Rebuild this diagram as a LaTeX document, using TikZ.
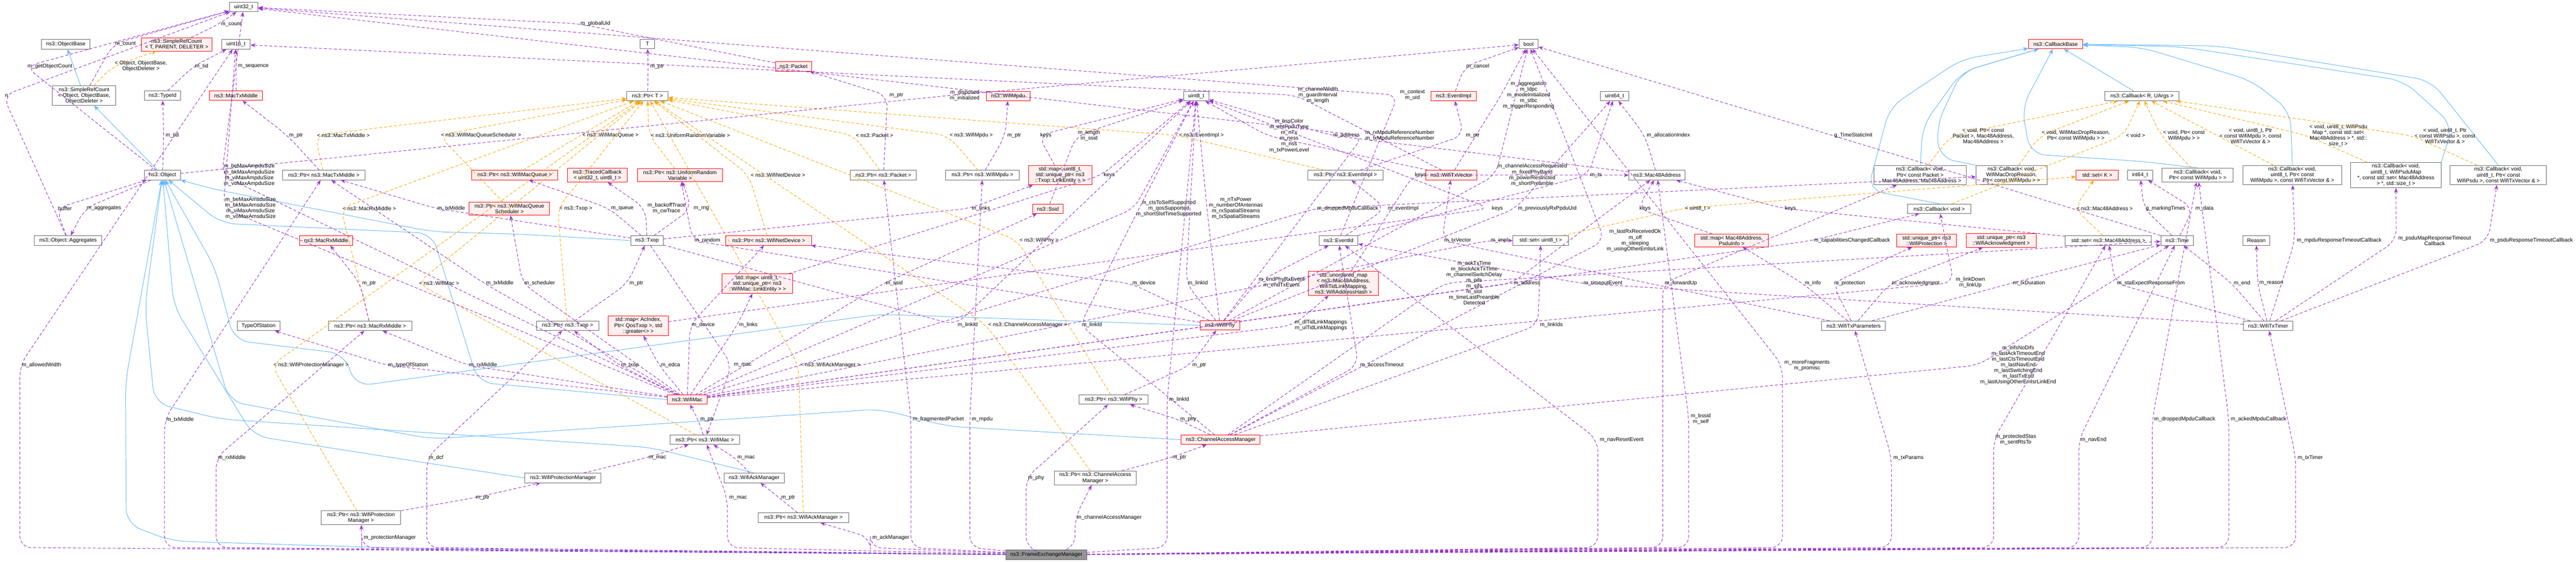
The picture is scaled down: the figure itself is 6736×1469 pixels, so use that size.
\documentclass[tikz,border=0pt]{standalone}
\usepackage{fontspec}
\setmainfont{Liberation Sans}
\usetikzlibrary{arrows.meta}
\definecolor{pur}{HTML}{9A32CD}
\definecolor{blu}{HTML}{63B8FF}
\definecolor{org}{HTML}{FFA500}
\definecolor{rfill}{HTML}{FFF0F0}
\definecolor{bgray}{HTML}{666666}
\newcommand\dfont{\fontsize{14}{15}\selectfont}
\newcommand\depE[4]{\draw[dep] (#1) -- (#3) -- (#2); \node[lbl,anchor=west,xshift=4pt] at (#3) {#4};}
\newcommand\femE[4]{\draw[dep] (fem) -- (#2,1432) -- (#2,#3) -- (#1); \node[lbl,anchor=west,xshift=4pt] at (#2,#3) {#4};}
\newcommand\tplE[4]{\draw[tpl] (#1) -- (#3) -- (#2); \node[lbl,anchor=west,xshift=4pt] at (#3) {#4};}
\tikzset{
 cls/.style={draw=bgray,fill=white,line width=1.3pt,font=\dfont,align=center,inner xsep=6pt,inner ysep=4pt,minimum height=25pt},
 red/.style={cls,draw=red,fill=rfill},
 femb/.style={cls,fill=bgray!70},
 lbl/.style={font=\dfont,align=center,inner sep=1pt},
 dep/.style={draw=pur,line width=1.3pt,dash pattern=on 8pt off 5pt,rounded corners=30pt,-{Stealth[length=13pt,width=10pt,fill=pur]}},
 tpl/.style={draw=org,line width=1.3pt,dash pattern=on 8pt off 5pt,rounded corners=30pt,-{Stealth[length=13pt,width=10pt,fill=org]}},
 inh/.style={draw=blu,line width=1.3pt,rounded corners=40pt,-{Stealth[length=14pt,width=11pt,fill=blu]}}
}
\begin{document}
\catcode`\_=12
\begin{tikzpicture}[x=1pt,y=-1pt]
\useasboundingbox[fill=white] (0,0) rectangle (6736,1469);
% nodes
\node[cls,minimum width=75pt] (u32) at (637,18) {uint32_t};
\node[cls,minimum width=126pt] (ob) at (172,116) {ns3::ObjectBase};
\node[red,minimum width=185pt] (srct) at (462,116) {ns3::SimpleRefCount\\< T, PARENT, DELETER >};
\node[cls,minimum width=75pt] (u16) at (617,116) {uint16_t};
\node[cls,minimum width=166pt] (srco) at (220,250) {ns3::SimpleRefCount\\< Object, ObjectBase,\\ObjectDeleter >};
\node[cls,minimum width=94pt] (tid) at (425,250) {ns3::TypeId};
\node[red,minimum width=139pt] (mtx) at (617,250) {ns3::MacTxMiddle};
\node[cls,minimum width=94pt] (obj) at (425,458) {ns3::Object};
\node[cls,minimum width=216pt] (pmtx) at (847,458) {ns3::Ptr< ns3::MacTxMiddle >};
\node[cls,minimum width=177pt] (agg) at (178,629) {ns3::Object::Aggregates};
\node[red,minimum width=139pt] (mrx) at (853,629) {ns3::MacRxMiddle};
\node[cls,minimum width=112pt] (tos) at (676,852) {TypeOfStation};
\node[cls,minimum width=219pt] (pmrx) at (968,852) {ns3::Ptr< ns3::MacRxMiddle >};
\node[cls,minimum width=208pt] (pwpm) at (944,1354) {ns3::Ptr< ns3::WifiProtection\\Manager >};
\node[cls,minimum width=38pt] (T) at (1693,115) {T};
\node[red,minimum width=95pt] (pkt) at (2075,174) {ns3::Packet};
\node[cls,minimum width=108pt] (pT) at (1693,251) {ns3::Ptr< T >};
\node[red,minimum width=225pt] (pwmq) at (1346,458) {ns3::Ptr< ns3::WifiMacQueue >};
\node[red,minimum width=157pt] (tcb) at (1562,458) {ns3::TracedCallback\\< uint32_t, uint8_t >};
\node[red,minimum width=223pt] (purv) at (1778,458) {ns3::Ptr< ns3::UniformRandom\\Variable >};
\node[red,minimum width=210pt] (pwmqs) at (1332,546) {ns3::Ptr< ns3::WifiMacQueue\\Scheduler >};
\node[cls,minimum width=84pt] (txop) at (1692,629) {ns3::Txop};
\node[red,minimum width=224pt] (pwnd) at (2010,629) {ns3::Ptr< ns3::WifiNetDevice >};
\node[red,minimum width=184pt] (maplink) at (1980,742) {std::map< uint8_t,\\ std::unique_ptr< ns3\\::WifiMac::LinkEntity > >};
\node[cls,minimum width=163pt] (ptxop) at (1484,852) {ns3::Ptr< ns3::Txop >};
\node[red,minimum width=157pt] (mapac) at (1669,852) {std::map< AcIndex,\\ Ptr< QosTxop >, std\\::greater<> >};
\node[red,minimum width=104pt] (wmac) at (1797,1045) {ns3::WifiMac};
\node[cls,minimum width=183pt] (pwmac) at (1843,1150) {ns3::Ptr< ns3::WifiMac >};
\node[cls,minimum width=200pt] (wpm) at (1472,1250) {ns3::WifiProtectionManager};
\node[cls,minimum width=157pt] (wam) at (1972,1250) {ns3::WifiAckManager};
\node[cls,minimum width=237pt] (pwam) at (2101,1354) {ns3::Ptr< ns3::WifiAckManager >};
\node[cls,minimum width=173pt] (ppkt) at (2310,458) {ns3::Ptr< ns3::Packet >};
\node[red,minimum width=114pt] (wmpdu) at (2636,251) {ns3::WifiMpdu};
\node[cls,minimum width=192pt] (pwmpdu) at (2569,458) {ns3::Ptr< ns3::WifiMpdu >};
\node[red,minimum width=166pt] (maptxl) at (2772,458) {std::map< uint8_t,\\ std::unique_ptr< ns3\\::Txop::LinkEntity > >};
\node[red,minimum width=79pt] (ssid) at (2740,546) {ns3::Ssid};
\node[cls,minimum width=66pt] (u8) at (3128,251) {uint8_t};
\node[red,minimum width=103pt] (wphy) at (3190,851) {ns3::WifiPhy};
\node[cls,minimum width=181pt] (pwphy) at (2912,1045) {ns3::Ptr< ns3::WifiPhy >};
\node[red,minimum width=206pt] (cam) at (3192,1150) {ns3::ChannelAccessManager};
\node[cls,minimum width=214pt] (pcam) at (2864,1250) {ns3::Ptr< ns3::ChannelAccess\\Manager >};
\node[femb,minimum width=212pt] (fem) at (2736,1451) {ns3::FrameExchangeManager};
\node[cls,minimum width=50pt] (bool) at (3997,115) {bool};
\node[red,minimum width=118pt] (evimpl) at (3801,251) {ns3::EventImpl};
\node[cls,minimum width=75pt] (u64) at (4222,251) {uint64_t};
\node[cls,minimum width=197pt] (pev) at (3518,458) {ns3::Ptr< ns3::EventImpl >};
\node[red,minimum width=134pt] (txvec) at (3795,458) {ns3::WifiTxVector};
\node[cls,minimum width=147pt] (mac48) at (4333,458) {ns3::Mac48Address};
\node[cls,minimum width=102pt] (evid) at (3500,629) {ns3::EventId};
\node[cls,minimum width=145pt] (setu8) at (4029,629) {std::set< uint8_t >};
\node[red,minimum width=192pt] (mappsdu) at (4528,629) {std::map< Mac48Address,\\ PsduInfo >};
\node[red,minimum width=183pt] (umap) at (3513,741) {std::unordered_map\\< ns3::Mac48Address,\\ WifiTidLinkMapping,\\ ns3::WifiAddressHash >};
\node[red,minimum width=141pt] (cbb) at (5375,115) {ns3::CallbackBase};
\node[cls,minimum width=194pt] (cbr) at (5601,251) {ns3::Callback< R, UArgs >};
\node[cls,minimum width=241pt] (cbpkt) at (5021,458) {ns3::Callback< void,\\ Ptr< const Packet >\\, Mac48Address, Mac48Address >};
\node[cls,minimum width=186pt] (cbdrop) at (5260,458) {ns3::Callback< void,\\ WifiMacDropReason,\\ Ptr< const WifiMpdu > >};
\node[red,minimum width=110pt] (setk) at (5484,458) {std::set< K >};
\node[cls,minimum width=67pt] (i64) at (5596,458) {int64_t};
\node[cls,minimum width=166pt] (cbv) at (5071,546) {ns3::Callback< void >};
\node[red,minimum width=157pt] (uprot) at (5038,629) {std::unique_ptr< ns3\\::WifiProtection >};
\node[red,minimum width=183pt] (uack) at (5233,629) {std::unique_ptr< ns3\\::WifiAcknowledgment >};
\node[cls,minimum width=225pt] (setmac) at (5513,629) {std::set< ns3::Mac48Address >};
\node[cls,minimum width=167pt] (wtxp) at (4847,852) {ns3::WifiTxParameters};
\node[cls,minimum width=186pt] (cbmpdu) at (5747,458) {ns3::Callback< void,\\ Ptr< const WifiMpdu > >};
\node[cls,minimum width=258pt] (cbmv) at (5994,458) {ns3::Callback< void,\\ uint8_t, Ptr< const\\ WifiMpdu >, const WifiTxVector \& >};
\node[cls,minimum width=236pt] (cbmap) at (6265,458) {ns3::Callback< void,\\ uint8_t, WifiPsduMap\\ *, const std::set< Mac48Address\\ > *, std::size_t >};
\node[cls,minimum width=252pt] (cbpsdu) at (6533,458) {ns3::Callback< void,\\ uint8_t, Ptr< const\\ WifiPsdu >, const WifiTxVector \& >};
\node[cls,minimum width=85pt] (time) at (5693,629) {ns3::Time};
\node[cls,minimum width=69pt] (reason) at (5900,629) {Reason};
\node[cls,minimum width=129pt] (wtt) at (5931,852) {ns3::WifiTxTimer};
% inheritance
\draw[inh] (srco) -- (ob);
\draw[inh] (obj) -- (srco);
\draw[inh] (txop.west) -- (1350,612) -- (1130,606) -- (560,495) -- (obj);
\draw[inh] (wmac.west) -- (1250,1000) -- (1130,610) -- (577,584) -- (obj);
\draw[inh] (wphy.west) -- (2300,822) -- (930,1010) -- (900,925) -- (612,890) -- (562,700) -- (obj);
\draw[inh] (cam.west) -- (2480,1115) -- (2300,1070) -- (1130,1148) -- (600,1050) -- (526,800) -- (obj);
\draw[inh] (wpm.west) -- (1130,1213) -- (663,1140) -- (454,800) -- (obj);
\draw[inh] (wam.north) -- (1700,1170) -- (577,1096) -- (404,1054) -- (379,800) -- (obj);
\draw[inh] (fem.west) -- (1130,1436) -- (450,1415) -- (330,1370) -- (328,1000) -- (obj);
\draw[inh] (cbr) -- (cbb);
\draw[inh] (cbpkt.north) -- (5028,328) -- (5129,188) -- (cbb);
\draw[inh] (cbdrop.north west) -- (5071,413) -- (5064,328) -- (5129,188) -- (cbb);
\draw[inh] (cbv.north) -- (4884,497) -- (4941,281) -- (5129,155) -- (cbb);
\draw[inh] (cbmpdu.north) -- (5600,422) -- (5309,403) -- (5287,281) -- (cbb);
\draw[inh] (cbmv.north) -- (5989,291) -- (5888,211) -- (5600,124) -- (cbb);
\draw[inh] (cbmap.north east) -- (6414,328) -- (6285,211) -- (5700,122) -- (cbb);
\draw[inh] (cbpsdu.north) -- (6357,211) -- (5800,120) -- (cbb);
% templates
\tplE{srco}{srct}{295,173}{< Object, ObjectBase,\\ObjectDeleter >}
\tplE{pmtx}{pT}{824,354}{< ns3::MacTxMiddle >}
\tplE{pmrx}{pT}{891,545}{< ns3::MacRxMiddle >}
\tplE{pwpm}{pT}{710,955}{< ns3::WifiProtectionManager >}
\tplE{pwmqs}{pT}{1148,354}{< ns3::WifiMacQueueScheduler >}
\tplE{pwmq}{pT}{1518,354}{< ns3::WifiMacQueue >}
\tplE{purv}{pT}{1697,354}{< ns3::UniformRandomVariable >}
\tplE{pwnd}{pT}{1958,458}{< ns3::WifiNetDevice >}
\tplE{ptxop}{pT}{1458,545}{< ns3::Txop >}
\tplE{pwmac}{pT}{1091,741}{< ns3::WifiMac >}
\tplE{pwam}{pT}{2088,955}{< ns3::WifiAckManager >}
\tplE{ppkt}{pT}{2233,354}{< ns3::Packet >}
\tplE{pwmpdu}{pT}{2478,354}{< ns3::WifiMpdu >}
\tplE{pev}{pT}{3078,354}{< ns3::EventImpl >}
\tplE{pwphy}{pT}{2661,629}{< ns3::WifiPhy >}
\tplE{pcam}{pT}{2579,850}{< ns3::ChannelAccessManager >}
\tplE{setu8}{setk}{4401,545}{< uint8_t >}
\tplE{setmac}{setk}{5424,545}{< ns3::Mac48Address >}
\tplE{cbpkt}{cbr}{5101,355}{< void, Ptr< const\\Packet >, Mac48Address,\\Mac48Address >}
\tplE{cbdrop}{cbr}{5334,355}{< void, WifiMacDropReason,\\Ptr< const WifiMpdu > >}
\tplE{cbv}{cbr}{5554,354}{< void >}
\tplE{cbmpdu}{cbr}{5651,355}{< void, Ptr< const\\WifiMpdu > >}
\tplE{cbmv}{cbr}{5799,355}{< void, uint8_t, Ptr\\< const WifiMpdu >, const\\WifiTxVector \& >}
\tplE{cbmap}{cbr}{6034,355}{< void, uint8_t, WifiPsdu\\Map *, const std::set<\\Mac48Address > *, std::\\size_t >}
\tplE{cbpsdu}{cbr}{6309,355}{< void, uint8_t, Ptr\\< const WifiPsdu >, const\\WifiTxVector \& >}
% members
\depE{srct}{u32}{573,63}{m_count}
\depE{srco}{u32}{296,115}{m_count}
\depE{obj}{u32}{67,174}{m_getObjectCount}
\depE{agg}{u32}{8,250}{n}
\depE{tid}{u16}{505,174}{m_tid}
\depE{mtx}{u16}{617,174}{m_sequence}
\depE{obj}{tid}{428,354}{m_tid}
\depE{agg}{obj}{147,545}{buffer}
\depE{obj}{agg}{222,545}{m_aggregates}
\depE{pmtx}{mtx}{751,354}{m_ptr}
\depE{pmrx}{mrx}{942,741}{m_ptr}
\depE{pT}{T}{1695,174}{m_ptr}
\depE{pkt}{u32}{1513,62}{m_globalUid}
\depE{txop}{pwmq}{1593,545}{m_queue}
\depE{txop}{tcb}{1688,545}{m_backoffTrace\\m_cwTrace}
\depE{txop}{purv}{1809,545}{m_rng}
\depE{wphy}{purv}{1811,629}{m_random}
\depE{txop}{pmtx}{1139,545}{m_txMiddle}
\depE{wmac}{pmtx}{1266,741}{m_txMiddle}
\depE{wmac}{pwmqs}{1366,741}{m_scheduler}
\depE{ptxop}{txop}{1641,741}{m_ptr}
\depE{wmac}{pwnd}{1804,850}{m_device}
\depE{wmac}{maplink}{1928,850}{m_links}
\depE{wmac}{pmrx}{1222,955}{m_rxMiddle}
\depE{wmac}{ptxop}{1619,955}{m_txop}
\depE{wmac}{mapac}{1723,955}{m_edca}
\depE{txop}{pwmac}{1914,955}{m_mac}
\depE{wmac}{tos}{1010,955}{m_typeOfStation}
\depE{pwmac}{wmac}{1826,1097}{m_ptr}
\depE{wpm}{pwmac}{1691,1197}{m_mac}
\depE{wam}{pwmac}{1923,1197}{m_mac}
\depE{pwpm}{wpm}{1239,1302}{m_ptr}
\depE{pwam}{wam}{2038,1302}{m_ptr}
\depE{ppkt}{pkt}{2321,250}{m_ptr}
\depE{obj}{bool}{2479,250}{m_disposed\\m_initialized}
\depE{pwmpdu}{wmpdu}{2629,354}{m_ptr}
\depE{maptxl}{u8}{2715,354}{keys}
\depE{ssid}{u8}{2814,355}{m_length\\m_ssid}
\depE{maplink}{u8}{2881,458}{keys}
\depE{txop}{maptxl}{2536,545}{m_links}
\depE{wphy}{u8}{3156,545}{m_nTxPower\\m_numberOfAntennas\\m_rxSpatialStreams\\m_txSpatialStreams}
\depE{wmac}{u8}{2966,545}{m_ctsToSelfSupported\\m_qosSupported\\m_shortSlotTimeSupported}
\depE{txvec}{u8}{3314,355}{m_bssColor\\m_ehtPpduType\\m_nTx\\m_ness\\m_nss\\m_txPowerLevel}
\depE{wmac}{ssid}{2311,741}{m_ssid}
\depE{wphy}{pwnd}{2956,741}{m_device}
\depE{wphy}{u8}{3101,741}{m_linkId}
\depE{txop}{u8}{2499,850}{m_linkId}
\depE{cam}{u8}{2824,850}{m_linkId}
\depE{pwphy}{wphy}{3113,955}{m_ptr}
\depE{cam}{pwphy}{3081,1097}{m_phy}
\depE{pcam}{cam}{3061,1197}{m_ptr}
\depE{evimpl}{bool}{3829,174}{m_cancel}
\depE{txvec}{u16}{3389,249}{m_channelWidth\\m_guardInterval\\m_length}
\depE{evid}{u32}{3656,249}{m_context\\m_uid}
\depE{txvec}{bool}{3925,249}{m_aggregation\\m_ldpc\\m_modeInitialized\\m_stbc\\m_triggerResponding}
\depE{mac48}{u8}{3481,354}{m_address}
\depE{wphy}{u32}{3565,355}{m_rxMpduReferenceNumber\\m_txMpduReferenceNumber}
\depE{pev}{evimpl}{3828,354}{m_ptr}
\depE{mac48}{u64}{4301,354}{m_allocationIndex}
\depE{umap}{mac48}{3695,458}{keys}
\depE{wphy}{bool}{3911,458}{m_channelAccessRequested\\m_fixedPhyBand\\m_powerRestricted\\m_shortPreamble}
\depE{evid}{u64}{4153,458}{m_ts}
\depE{wmac}{cbdrop}{3439,545}{m_droppedMpduCallback}
\depE{evid}{pev}{3624,545}{m_eventImpl}
\depE{mapac}{u8}{3896,545}{keys}
\depE{wphy}{u64}{3964,545}{m_previouslyRxPpduUid}
\depE{mappsdu}{mac48}{4282,545}{keys}
\depE{setmac}{mac48}{4662,545}{keys}
\depE{cam}{bool}{4196,629}{m_lastRxReceivedOk\\m_off\\m_sleeping\\m_usingOtherEmlsrLink}
\depE{wtxp}{txvec}{3771,629}{m_txVector}
\depE{wmac}{setu8}{3893,629}{m_impl}
\depE{cam}{time}{3777,740}{m_ackTxTime\\m_blockAckTxTime\\m_channelSwitchDelay\\m_pifs\\m_sifs\\m_slot\\m_timeLastPreamble\\Detected}
\depE{wphy}{evid}{3286,739}{m_endPhyRxEvent\\m_endTxEvent}
\depE{wmac}{umap}{3381,851}{m_dlTidLinkMappings\\m_ulTidLinkMappings}
\depE{wmac}{mac48}{3953,741}{m_address}
\depE{cam}{setu8}{4022,850}{m_linkIds}
\depE{wtt}{evid}{4136,741}{m_timeoutEvent}
\depE{cam}{evid}{3552,955}{m_accessTimeout}
\depE{time}{bool}{4791,354}{g_TimeStaticInit}
\depE{wmac}{cbv}{4738,629}{m_capabilitiesChangedCallback}
\depE{wmac}{cbv}{5109,739}{m_linkDown\\m_linkUp}
\depE{wtxp}{mappsdu}{4714,741}{m_info}
\depE{wtxp}{uprot}{4791,741}{m_protection}
\depE{wtxp}{uack}{4942,741}{m_acknowledgment}
\depE{wtxp}{time}{5259,741}{m_txDuration}
\depE{wtt}{setmac}{5531,741}{m_staExpectResponseFrom}
\depE{cam}{time}{5173,955}{m_eifsNoDifs\\m_lastAckTimeoutEnd\\m_lastCtsTimeoutEnd\\m_lastNavEnd\\m_lastSwitchingEnd\\m_lastTxEnd\\m_lastUsingOtherEmlsrLinkEnd}
\depE{time}{i64}{5606,545}{g_markingTimes}
\depE{time}{i64}{5736,545}{m_data}
\depE{wtt}{time}{5836,741}{m_end}
\depE{wtt}{reason}{5903,741}{m_reason}
\depE{wtt}{cbmv}{6001,629}{m_mpduResponseTimeoutCallback}
\depE{wtt}{cbmap}{6266,629}{m_psduMapResponseTimeout\\Callback}
\depE{wtt}{cbpsdu}{6506,629}{m_psduResponseTimeoutCallback}
\depE{wmac}{u32}{580,458}{m_beMaxAmpduSize\\m_bkMaxAmpduSize\\m_viMaxAmpduSize\\m_voMaxAmpduSize}
\depE{wmac}{u16}{584,545}{m_beMaxAmsduSize\\m_bkMaxAmsduSize\\m_viMaxAmsduSize\\m_voMaxAmsduSize}
\femE{u16}{52}{955}{m_allowedWidth}
\femE{pmtx}{430}{1097}{m_txMiddle}
\femE{pmrx}{565}{1197}{m_rxMiddle}
\femE{pwpm}{946}{1406}{m_protectionManager}
\femE{ptxop}{1116}{1197}{m_dcf}
\femE{pwmac}{1902}{1302}{m_mac}
\femE{pwam}{2276}{1406}{m_ackManager}
\femE{u8}{3052}{1045}{m_linkId}
\femE{ppkt}{2382}{1097}{m_fragmentedPacket}
\femE{pwmpdu}{2536}{1097}{m_mpdu}
\femE{pwphy}{2683}{1250}{m_phy}
\femE{pcam}{2811}{1354}{m_channelAccessManager}
\femE{cbpkt}{4348}{741}{m_forwardUp}
\femE{mac48}{4416}{1096}{m_bssid\\m_self}
\femE{evid}{4178}{1150}{m_navResetEvent}
\femE{bool}{4661}{956}{m_moreFragments\\m_promisc}
\femE{setmac}{5213}{1150}{m_protectedStas\\m_sentRtsTo}
\femE{time}{5436}{1150}{m_navEnd}
\femE{wtxp}{4946}{1197}{m_txParams}
\femE{cbmpdu}{5628}{1097}{m_droppedMpduCallback}
\femE{cbmpdu}{5828}{1097}{m_ackedMpduCallback}
\femE{wtt}{6003}{1197}{m_txTimer}
\end{tikzpicture}
\end{document}
